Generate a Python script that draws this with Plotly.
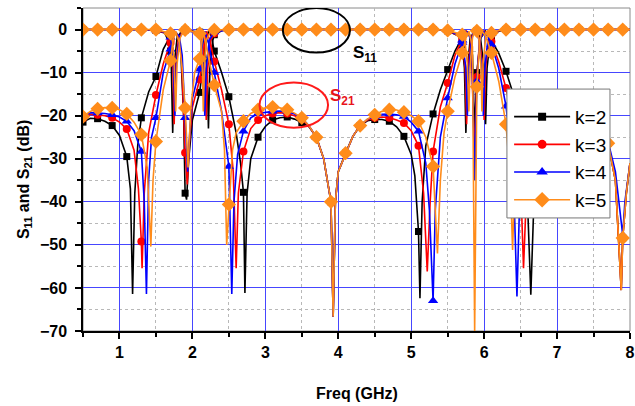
import plotly.graph_objects as go

LABELS = ["k=2", "k=3", "k=4", "k=5"]
COLORS = ["#000000", "#ff0000", "#0000ff", "#ff8c1a"]
SYMBOLS = ["square", "circle", "triangle-up", "diamond"]
MSIZES = [7, 8, 9, 11]

X_TICKS = [1, 2, 3, 4, 5, 6, 7, 8]
Y_TICKS = [0, -10, -20, -30, -40, -50, -60, -70]

# frequencies (GHz) at which the symbols are drawn
MARKER_F = [0.5, 0.7, 0.9, 1.1, 1.3, 1.5, 1.7, 1.9, 2.1, 2.3, 2.5, 2.7, 2.9, 3.1,
            3.3, 3.5, 3.7, 3.9, 4.1, 4.3, 4.5, 4.7, 4.9, 5.1, 5.3, 5.5, 5.7, 5.9,
            6.1, 6.3, 6.5, 6.7, 6.9, 7.1, 7.3, 7.5, 7.7, 7.9]

# (freq GHz, dB)
S21_K2 = [(0.5, -21.5), (0.6, -20.6), (0.7, -20.7), (0.8, -21.3), (0.9, -22.3), (1.0, -24.6),
          (1.1, -29.5), (1.15, -37), (1.18, -61.4), (1.21, -38), (1.25, -27), (1.3, -20.5),
          (1.4, -14.5), (1.5, -10.9), (1.6, -4.6), (1.7, -1.3), (1.73, -0.4), (1.78, -0.8),
          (1.84, -5), (1.88, -20), (1.9, -38), (1.92, -39.5), (1.95, -30), (2.0, -21),
          (2.1, -14.6), (2.16, -6), (2.22, -0.4), (2.26, -1.5), (2.3, -5), (2.4, -10),
          (2.5, -15.6), (2.6, -24), (2.66, -31), (2.7, -37.8), (2.72, -61.2), (2.75, -38),
          (2.8, -30), (2.9, -25), (3.0, -22.5), (3.1, -21), (3.2, -20.5), (3.3, -20.3),
          (3.4, -20.8), (3.5, -21.6), (3.6, -22.6), (3.7, -25), (3.8, -30), (3.9, -40),
          (3.93, -66.7), (3.96, -40), (4.0, -33), (4.1, -28.7), (4.2, -24.8), (4.3, -22.3),
          (4.4, -21.2), (4.5, -20.9), (4.6, -20.9), (4.7, -21.3), (4.8, -22.6), (4.9, -24.8),
          (5.0, -29), (5.05, -34), (5.1, -46.9), (5.12, -62.4), (5.15, -40), (5.2, -27),
          (5.3, -19.6), (5.4, -14), (5.5, -9.3), (5.6, -5), (5.7, -1.8), (5.75, -0.4),
          (5.8, -1.2), (5.84, -6), (5.87, -24), (5.9, -10), (5.95, -2), (6.02, -0.4),
          (6.1, -2.5), (6.2, -5.5), (6.3, -9.7), (6.4, -15), (6.5, -22), (6.58, -33),
          (6.64, -61.6), (6.68, -38), (6.7, -31), (6.8, -25), (6.9, -22.5), (7.0, -21.5),
          (7.1, -21), (7.3, -21), (7.5, -22), (7.6, -23.5), (7.7, -26.4), (7.8, -35),
          (7.88, -60.5), (7.9, -48.4), (7.95, -38), (8.0, -31)]

S21_K3 = [(0.5, -20.6), (0.6, -19.7), (0.7, -19.8), (0.8, -20), (0.9, -20.5), (1.0, -21.5),
          (1.1, -23.1), (1.2, -28), (1.26, -37), (1.3, -49.2), (1.31, -55.4), (1.34, -38),
          (1.4, -24), (1.5, -15.2), (1.6, -8), (1.7, -3.1), (1.75, -0.4), (1.8, -1.2),
          (1.85, -6), (1.9, -28.6), (1.93, -36), (1.96, -26), (2.0, -18), (2.1, -11.6),
          (2.15, -5), (2.19, -0.4), (2.24, -2.5), (2.3, -7.4), (2.4, -14), (2.5, -22),
          (2.56, -33), (2.6, -55.4), (2.63, -38), (2.7, -28.3), (2.8, -23), (2.9, -21),
          (3.0, -20), (3.1, -19.5), (3.2, -19.3), (3.3, -19.5), (3.4, -20), (3.5, -20.8),
          (3.6, -22.5), (3.7, -25), (3.8, -30), (3.9, -40), (3.93, -66.7), (3.96, -40),
          (4.0, -33), (4.1, -28.7), (4.2, -24.8), (4.3, -22.3), (4.4, -21), (4.5, -20.5),
          (4.6, -20.3), (4.7, -20.5), (4.8, -21), (4.9, -21.7), (5.0, -23.5), (5.1, -27),
          (5.17, -38), (5.22, -56.2), (5.26, -40), (5.3, -28.3), (5.4, -18), (5.5, -12.4),
          (5.6, -6), (5.7, -2.3), (5.76, -0.4), (5.82, -2), (5.87, -30), (5.9, -11),
          (5.94, -2.2), (6.0, -0.4), (6.05, -1), (6.1, -2.8), (6.2, -7.5), (6.3, -13.6),
          (6.4, -22), (6.5, -35), (6.54, -55.4), (6.58, -38), (6.65, -28), (6.7, -25),
          (6.8, -22.5), (6.9, -21.5), (7.1, -21), (7.3, -21), (7.5, -22), (7.6, -23.5),
          (7.7, -26.4), (7.8, -35), (7.88, -60.5), (7.9, -48.4), (7.95, -38), (8.0, -31)]

S21_K4 = [(0.5, -20.3), (0.6, -19.3), (0.7, -19.4), (0.8, -19.5), (0.9, -19.8), (1.0, -20.3),
          (1.1, -21.3), (1.2, -23.5), (1.3, -28.3), (1.34, -40), (1.37, -61.4), (1.4, -35),
          (1.44, -25), (1.5, -20.5), (1.6, -10), (1.7, -4.6), (1.76, -0.4), (1.82, -1.5),
          (1.86, -6), (1.9, -20.5), (1.935, -33), (1.97, -22), (2.0, -16), (2.1, -9.2),
          (2.13, -4), (2.17, -0.4), (2.22, -3), (2.3, -10), (2.4, -19), (2.5, -31.8),
          (2.54, -61.4), (2.57, -40), (2.62, -29), (2.7, -23.6), (2.8, -20.5), (2.9, -19.5),
          (3.0, -19.2), (3.1, -19), (3.2, -18.9), (3.3, -19), (3.4, -19.6), (3.5, -20.5),
          (3.6, -22.4), (3.7, -25), (3.8, -30), (3.9, -40), (3.93, -66.7), (3.96, -40),
          (4.0, -33), (4.1, -28.7), (4.2, -24.8), (4.3, -22.3), (4.4, -20.8), (4.5, -20.2),
          (4.6, -19.7), (4.7, -19.6), (4.8, -19.8), (4.9, -20.2), (5.0, -21.5), (5.1, -23.6),
          (5.2, -31), (5.25, -42), (5.3, -63), (5.33, -42), (5.4, -25), (5.5, -15.9),
          (5.6, -8), (5.7, -3), (5.77, -0.4), (5.83, -3), (5.87, -35), (5.9, -12),
          (5.94, -2.5), (5.99, -0.4), (6.05, -1.5), (6.1, -3.5), (6.2, -9), (6.3, -17.8),
          (6.4, -33), (6.45, -62), (6.49, -38), (6.55, -30), (6.6, -26), (6.7, -22.5),
          (6.8, -21.5), (6.9, -21), (7.1, -20.5), (7.3, -20.5), (7.5, -21.5), (7.6, -23),
          (7.7, -26), (7.8, -33), (7.85, -40), (7.9, -47.7), (7.93, -40), (8.0, -31)]

S21_K5 = [(0.5, -20.2), (0.6, -19), (0.7, -18.4), (0.8, -18.1), (0.9, -18.2), (1.0, -18.6),
          (1.1, -19.6), (1.2, -21.5), (1.3, -24.4), (1.38, -32), (1.43, -50.4), (1.46, -35),
          (1.5, -26), (1.6, -14), (1.7, -7.2), (1.73, -3), (1.77, -0.4), (1.82, -3),
          (1.86, -9), (1.9, -18.2), (1.94, -32), (1.98, -18), (2.03, -10), (2.1, -6.8),
          (2.15, -0.6), (2.2, -5), (2.3, -12.9), (2.4, -19), (2.44, -28), (2.47, -50),
          (2.5, -40.6), (2.55, -28), (2.6, -24), (2.7, -21.3), (2.8, -19.5), (2.9, -18.6),
          (3.0, -18.2), (3.1, -18), (3.2, -18.2), (3.3, -18.6), (3.4, -19.4), (3.5, -20.5),
          (3.6, -22.4), (3.7, -25), (3.8, -30), (3.9, -40), (3.93, -66.7), (3.96, -40),
          (4.0, -33), (4.1, -28.7), (4.2, -24.8), (4.3, -22.3), (4.4, -20.8), (4.5, -19.8),
          (4.6, -19), (4.7, -18.6), (4.8, -18.7), (4.9, -19.2), (5.0, -20), (5.1, -21.3),
          (5.2, -25), (5.3, -31.8), (5.36, -52), (5.4, -35), (5.45, -24), (5.5, -19),
          (5.6, -11), (5.7, -5.4), (5.75, -2), (5.79, -0.4), (5.84, -4), (5.87, -70),
          (5.9, -13.3), (5.94, -2.5), (5.97, -0.4), (6.02, -1.5), (6.1, -5.4), (6.2, -12),
          (6.3, -22), (6.36, -35), (6.39, -51.2), (6.42, -35), (6.5, -27), (6.6, -23),
          (6.7, -21), (6.8, -20.3), (6.9, -20), (7.1, -20), (7.3, -20.5), (7.5, -22),
          (7.6, -23.5), (7.7, -26.4), (7.8, -35), (7.88, -60.5), (7.9, -48.4), (7.95, -38),
          (8.0, -31)]

S11_K2 = [(0.5, 0), (0.7, 0), (0.9, 0), (1.1, 0), (1.3, 0), (1.5, -0.2), (1.62, -0.8),
          (1.68, -3), (1.7, -5), (1.71, -8), (1.73, -24), (1.75, -8), (1.79, -2), (1.85, -0.4),
          (1.9, -0.1), (2.1, -0.6), (2.16, -3), (2.2, -9), (2.22, -23), (2.24, -9), (2.28, -2.5),
          (2.3, -1.2), (2.4, -0.3), (2.5, 0), (2.7, 0), (2.9, 0), (3.1, 0), (3.3, 0), (3.5, 0),
          (3.7, 0), (3.9, 0), (4.1, 0), (4.3, 0), (4.5, 0), (4.7, 0), (4.9, 0), (5.1, 0),
          (5.3, 0), (5.5, -0.3), (5.65, -1.5), (5.7, -3.5), (5.73, -9), (5.75, -24), (5.77, -9),
          (5.81, -2), (5.87, -0.2), (5.9, -0.3), (5.95, -2), (6.0, -9), (6.02, -22), (6.04, -9),
          (6.08, -2.5), (6.1, -1.5), (6.2, -0.4), (6.3, 0), (6.5, 0), (6.7, 0), (6.9, 0),
          (7.1, 0), (7.3, 0), (7.5, 0), (7.7, 0), (7.9, 0), (8.0, 0)]

S11_K3 = [(0.5, 0), (0.7, 0), (0.9, 0), (1.1, 0), (1.3, 0), (1.5, -0.2), (1.64, -0.8),
          (1.7, -2.5), (1.73, -8), (1.75, -22), (1.77, -8), (1.81, -2), (1.87, -0.4), (1.9, -0.1),
          (2.1, -0.8), (2.14, -3), (2.17, -9), (2.19, -21), (2.21, -9), (2.25, -2.5), (2.3, -0.9),
          (2.4, -0.2), (2.5, 0), (2.7, 0), (2.9, 0), (3.1, 0), (3.3, 0), (3.5, 0), (3.7, 0),
          (3.9, 0), (4.1, 0), (4.3, 0), (4.5, 0), (4.7, 0), (4.9, 0), (5.1, 0), (5.3, 0),
          (5.5, -0.3), (5.66, -1.5), (5.7, -3), (5.74, -9), (5.76, -22), (5.78, -9), (5.82, -2),
          (5.87, -0.2), (5.9, -0.4), (5.94, -2.5), (5.98, -9), (6.0, -21), (6.02, -9),
          (6.06, -2.5), (6.1, -1.2), (6.2, -0.3), (6.3, 0), (6.5, 0), (6.7, 0), (6.9, 0),
          (7.1, 0), (7.3, 0), (7.5, 0), (7.7, 0), (7.9, 0), (8.0, 0)]

S11_K4 = [(0.5, 0), (0.7, 0), (0.9, 0), (1.1, 0), (1.3, 0), (1.5, -0.1), (1.66, -0.8),
          (1.7, -1.8), (1.74, -8), (1.76, -20), (1.78, -8), (1.82, -2), (1.88, -0.3), (1.9, -0.1),
          (2.1, -1), (2.12, -3), (2.15, -9), (2.17, -20), (2.19, -9), (2.23, -2.5), (2.3, -0.6),
          (2.5, 0), (2.7, 0), (2.9, 0), (3.1, 0), (3.3, 0), (3.5, 0), (3.7, 0), (3.9, 0),
          (4.1, 0), (4.3, 0), (4.5, 0), (4.7, 0), (4.9, 0), (5.1, 0), (5.3, 0), (5.5, -0.2),
          (5.67, -1.5), (5.7, -2.5), (5.75, -9), (5.77, -20), (5.79, -9), (5.83, -2),
          (5.87, -0.2), (5.9, -0.5), (5.93, -2.5), (5.97, -9), (5.99, -20), (6.01, -9),
          (6.05, -2.5), (6.1, -1), (6.2, -0.2), (6.3, 0), (6.5, 0), (6.7, 0), (6.9, 0),
          (7.1, 0), (7.3, 0), (7.5, 0), (7.7, 0), (7.9, 0), (8.0, 0)]

S11_K5 = [(0.5, 0), (0.7, 0), (0.9, 0), (1.1, 0), (1.3, 0), (1.5, 0), (1.7, -0.9),
          (1.73, -3), (1.75, -8), (1.77, -19), (1.79, -8), (1.83, -2), (1.88, -0.3), (1.9, -0.1),
          (2.1, -0.9), (2.12, -3), (2.135, -8), (2.15, -19), (2.165, -8), (2.19, -2.5),
          (2.25, -0.4), (2.3, -0.1), (2.5, 0), (2.7, 0), (2.9, 0), (3.1, 0), (3.3, 0), (3.5, 0),
          (3.7, 0), (3.9, 0), (4.1, 0), (4.3, 0), (4.5, 0), (4.7, 0), (4.9, 0), (5.1, 0),
          (5.3, 0), (5.5, -0.2), (5.7, -1.2), (5.74, -3), (5.77, -8), (5.79, -19), (5.81, -8),
          (5.84, -2), (5.87, -0.1), (5.9, -0.3), (5.93, -2.5), (5.955, -8), (5.97, -19),
          (5.985, -8), (6.02, -2), (6.1, -0.8), (6.2, -0.2), (6.3, 0), (6.5, 0), (6.7, 0),
          (6.9, 0), (7.1, 0), (7.3, 0), (7.5, 0), (7.7, 0), (7.9, 0), (8.0, 0)]

S21_ALL = [S21_K2, S21_K3, S21_K4, S21_K5]
S11_ALL = [S11_K2, S11_K3, S11_K4, S11_K5]

FONT = "Liberation Sans, Arial, sans-serif"
mset = set(MARKER_F)

fig = go.Figure()
for lab, col, sym, ms, s21, s11 in zip(LABELS, COLORS, SYMBOLS, MSIZES, S21_ALL, S11_ALL):
    for pts in (s21, s11):
        fig.add_trace(go.Scatter(
            x=[p[0] for p in pts], y=[p[1] for p in pts], mode="lines",
            line=dict(color=col, width=1.6), showlegend=False, hoverinfo="skip"))
        mk = [p for p in pts if round(p[0], 3) in mset]
        fig.add_trace(go.Scatter(
            x=[p[0] for p in mk], y=[p[1] for p in mk], mode="markers",
            marker=dict(symbol=sym, size=ms, color=col, line=dict(width=0)),
            showlegend=False, hoverinfo="skip", cliponaxis=True))
    fig.add_trace(go.Scatter(
        x=[None], y=[None], mode="lines+markers", name=lab, legendgroup=lab,
        line=dict(color=col, width=1.6),
        marker=dict(symbol=sym, size=ms + 1, color=col)))

# plot frame (top/right in gray)
fig.add_shape(type="rect", xref="x domain", yref="y domain", x0=0, x1=1, y0=0, y1=1,
              line=dict(color="#8a8a8a", width=1), layer="below")
# highlight ellipses
fig.add_shape(type="circle", xref="x", yref="y", x0=3.24, x1=4.16, y0=-5.35, y1=5.0,
              line=dict(color="#000000", width=2))
fig.add_shape(type="circle", xref="x", yref="y", x0=2.92, x1=3.86, y0=-22.8, y1=-12.3,
              line=dict(color="#ff1a1a", width=2))
# legend box
fig.add_shape(type="rect", xref="paper", yref="paper", x0=0.775, x1=0.9634, y0=0.350, y1=0.749,
              fillcolor="#ffffff", line=dict(color="#777777", width=1), layer="above")

fig.add_annotation(x=4.36, y=-5.6, xref="x", yref="y", showarrow=False,
                   text="S<sub>11</sub>", font=dict(family=FONT, size=17, color="#000000", weight="bold"))
fig.add_annotation(x=4.06, y=-15.6, xref="x", yref="y", showarrow=False,
                   text="S<sub>21</sub>", font=dict(family=FONT, size=17, color="#e8141b", weight="bold"))

fig.add_annotation(x=0.5, y=-0.192, xref="paper", yref="paper", showarrow=False,
                   text="Freq (GHz)", xanchor="center", yanchor="middle",
                   font=dict(family=FONT, size=16, color="#000000", weight="bold"))
fig.add_annotation(x=-0.108, y=0.47, xref="paper", yref="paper", showarrow=False,
                   text="S<sub>11</sub> and S<sub>21</sub> (dB)", textangle=-90,
                   xanchor="center", yanchor="middle",
                   font=dict(family=FONT, size=16, color="#000000", weight="bold"))

axis_common = dict(
    showline=True, linecolor="#000000", linewidth=1.5, automargin=False,
    ticks="outside", ticklen=6, tickwidth=1.5, tickcolor="#000000",
    showgrid=True, gridcolor="#4646ff", gridwidth=1, zeroline=False,
    tickfont=dict(family=FONT, size=16, color="#000000", weight="bold"),
)

fig.update_xaxes(range=[0.5, 8], tickvals=X_TICKS, **axis_common,
                 minor=dict(dtick=0.5, tick0=0.5, showgrid=True, gridcolor="#b8b8b8",
                            griddash="dot", gridwidth=1, ticks="outside", ticklen=4,
                            tickcolor="#000000"))
fig.update_yaxes(range=[-70, 5], tickvals=Y_TICKS, ticklabelstandoff=5, **axis_common,
                 minor=dict(dtick=5, tick0=0, showgrid=True, gridcolor="#b8b8b8",
                            griddash="dot", gridwidth=1, ticks="outside", ticklen=4,
                            tickcolor="#000000"))

fig.update_layout(
    width=635, height=406,
    margin=dict(l=83, r=5, t=8, b=75),
    paper_bgcolor="#ffffff", plot_bgcolor="#ffffff",
    showlegend=True,
    legend=dict(x=0.779, y=0.722, xanchor="left", yanchor="top",
                bgcolor="rgba(0,0,0,0)", borderwidth=0,
                font=dict(family=FONT, size=19, color="#000000"),
                itemwidth=56, tracegroupgap=0, traceorder="grouped"),
)

fig.write_html("out.html", config={"displayModeBar": False},
               post_script="document.body.style.margin='0px';")
